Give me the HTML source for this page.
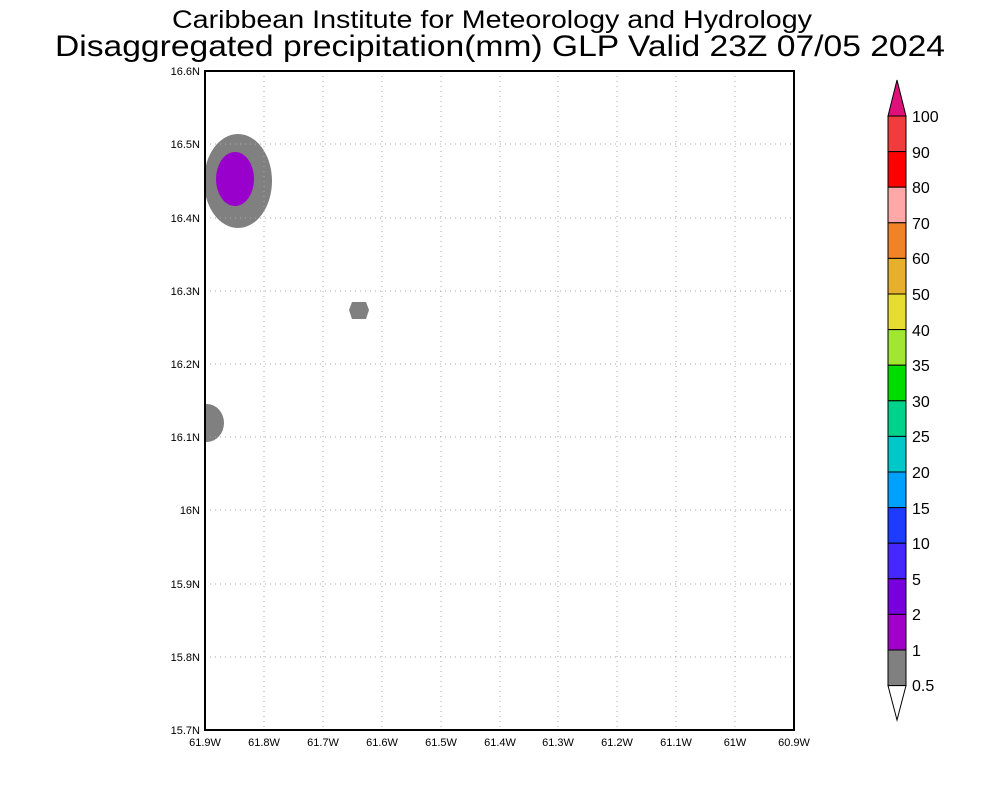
<!DOCTYPE html><html><head><style>body{margin:0;background:#fff}</style></head><body>
<svg width="1000" height="800" xmlns="http://www.w3.org/2000/svg" font-family="Liberation Sans, sans-serif">
<rect width="1000" height="800" fill="#fff"/>
<text x="492" y="28" font-size="25" text-anchor="middle" textLength="640" lengthAdjust="spacingAndGlyphs">Caribbean Institute for Meteorology and Hydrology</text>
<text x="500" y="56" font-size="30" text-anchor="middle" textLength="890" lengthAdjust="spacingAndGlyphs">Disaggregated precipitation(mm) GLP Valid 23Z 07/05 2024</text>
<defs><clipPath id="c"><rect x="205" y="71" width="589" height="659"/></clipPath></defs>
<g clip-path="url(#c)">
<ellipse cx="238" cy="181" rx="34" ry="47" fill="#808080"/>
<ellipse cx="235" cy="179" rx="19" ry="27" fill="#9900cc"/>
<polygon points="352,302 366,302 369,310 366,319 352,319 349,310" fill="#808080"/>
<ellipse cx="207" cy="423" rx="17" ry="19" fill="#808080"/>
</g>
<g stroke="#aaa" stroke-dasharray="1,4" stroke-width="1">
<line x1="264" y1="71" x2="264" y2="730"/><line x1="323" y1="71" x2="323" y2="730"/><line x1="382" y1="71" x2="382" y2="730"/><line x1="441" y1="71" x2="441" y2="730"/><line x1="500" y1="71" x2="500" y2="730"/><line x1="558" y1="71" x2="558" y2="730"/><line x1="617" y1="71" x2="617" y2="730"/><line x1="676" y1="71" x2="676" y2="730"/><line x1="735" y1="71" x2="735" y2="730"/>
<line x1="205" y1="144" x2="794" y2="144"/><line x1="205" y1="218" x2="794" y2="218"/><line x1="205" y1="291" x2="794" y2="291"/><line x1="205" y1="364" x2="794" y2="364"/><line x1="205" y1="437" x2="794" y2="437"/><line x1="205" y1="510" x2="794" y2="510"/><line x1="205" y1="584" x2="794" y2="584"/><line x1="205" y1="657" x2="794" y2="657"/>
</g>
<rect x="205" y="71" width="589" height="659" fill="none" stroke="#000" stroke-width="2"/>
<g font-size="11" text-anchor="end">
<text x="200" y="75">16.6N</text><text x="200" y="148">16.5N</text><text x="200" y="222">16.4N</text><text x="200" y="295">16.3N</text><text x="200" y="368">16.2N</text><text x="200" y="441">16.1N</text><text x="200" y="514">16N</text><text x="200" y="588">15.9N</text><text x="200" y="661">15.8N</text><text x="200" y="734">15.7N</text>
</g>
<g font-size="11" text-anchor="middle">
<text x="205" y="746">61.9W</text><text x="264" y="746">61.8W</text><text x="323" y="746">61.7W</text><text x="382" y="746">61.6W</text><text x="441" y="746">61.5W</text><text x="500" y="746">61.4W</text><text x="558" y="746">61.3W</text><text x="617" y="746">61.2W</text><text x="676" y="746">61.1W</text><text x="735" y="746">61W</text><text x="794" y="746">60.9W</text>
</g>
<g stroke="#000" stroke-width="1">
<polygon points="888,116 897,80 906,116" fill="#e0107a"/>
<rect x="888" y="116" width="18" height="35.6" fill="#f03c3c"/>
<rect x="888" y="151.6" width="18" height="35.6" fill="#ff0000"/>
<rect x="888" y="187.2" width="18" height="35.6" fill="#ffa8a8"/>
<rect x="888" y="222.8" width="18" height="35.6" fill="#f08228"/>
<rect x="888" y="258.4" width="18" height="35.6" fill="#e6af2d"/>
<rect x="888" y="294" width="18" height="35.6" fill="#e6dc32"/>
<rect x="888" y="329.6" width="18" height="35.6" fill="#a0e632"/>
<rect x="888" y="365.2" width="18" height="35.6" fill="#00dc00"/>
<rect x="888" y="400.8" width="18" height="35.6" fill="#00d28c"/>
<rect x="888" y="436.4" width="18" height="35.6" fill="#00c8c8"/>
<rect x="888" y="472" width="18" height="35.6" fill="#00a0ff"/>
<rect x="888" y="507.6" width="18" height="35.6" fill="#1e3cff"/>
<rect x="888" y="543.2" width="18" height="35.6" fill="#4628ff"/>
<rect x="888" y="578.8" width="18" height="35.6" fill="#7800dc"/>
<rect x="888" y="614.4" width="18" height="35.6" fill="#a000c8"/>
<rect x="888" y="650" width="18" height="35.6" fill="#808080"/>
<polygon points="888,685.6 897,720 906,685.6" fill="#fff"/>
</g>
<g font-size="16" fill="#000">
<text x="912" y="122">100</text><text x="912" y="158">90</text><text x="912" y="193">80</text><text x="912" y="229">70</text><text x="912" y="264">60</text><text x="912" y="300">50</text><text x="912" y="336">40</text><text x="912" y="371">35</text><text x="912" y="407">30</text><text x="912" y="442">25</text><text x="912" y="478">20</text><text x="912" y="514">15</text><text x="912" y="549">10</text><text x="912" y="585">5</text><text x="912" y="620">2</text><text x="912" y="656">1</text><text x="912" y="691">0.5</text>
</g>
</svg>
</body></html>
